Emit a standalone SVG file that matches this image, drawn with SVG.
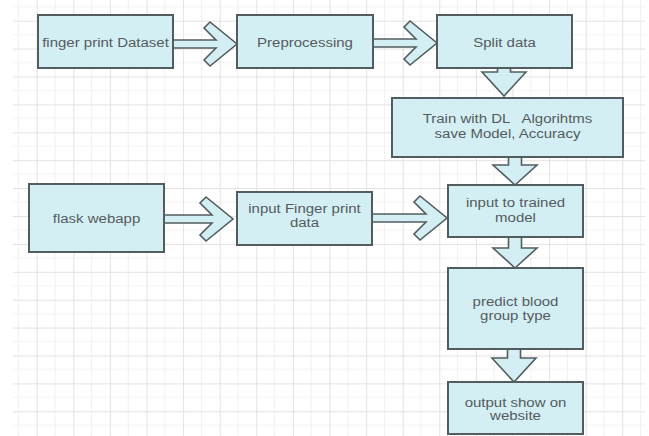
<svg xmlns="http://www.w3.org/2000/svg" width="649" height="436" viewBox="0 0 649 436">
<style>
.box{fill:#d3eff4;stroke:#535d60;stroke-width:2}
.arr{fill:#d3eff4;stroke:#535d60;stroke-width:1.6;stroke-linejoin:miter}
.t{font-family:"Liberation Sans",Arial,sans-serif;font-size:15px;fill:#555b5d;text-anchor:middle}
</style>
<defs>
<pattern id="grid" patternUnits="userSpaceOnUse" x="36.7" y="20.7" width="36.6" height="27.9">
<line x1="18.3" y1="0" x2="18.3" y2="27.9" stroke="#f1f1f1" stroke-width="1"/>
<line x1="0" y1="13.95" x2="36.6" y2="13.95" stroke="#f1f1f1" stroke-width="1"/>
<line x1="0.5" y1="0" x2="0.5" y2="27.9" stroke="#e2e2e2" stroke-width="1"/>
<line x1="0" y1="0.5" x2="36.6" y2="0.5" stroke="#e2e2e2" stroke-width="1"/>
</pattern>
</defs>
<rect x="0" y="0" width="649" height="436" fill="#ffffff"/>
<rect x="13" y="0" width="632" height="436" fill="url(#grid)"/>
<g id="connectors">
<path class="arr" d="M173,40 L216,40 L204,28 L210,22 L237,44 L210,66 L204,60 L216,48 L173,48 Z"/>
<path class="arr" d="M373,39 L416,39 L404,27 L410,21 L437,43 L410,65 L404,59 L416,47 L373,47 Z"/>
<path class="arr" d="M164,215 L212,215 L200,203 L206,197 L233,219 L206,241 L200,235 L212,223 L164,223 Z"/>
<path class="arr" d="M372,214 L426,214 L414,202 L420,196 L447,218 L420,240 L414,234 L426,222 L372,222 Z"/>
<path class="arr" d="M497.5,68 L510.5,68 L510.5,72 L526,72 L504,96 L482,72 L497.5,72 Z"/>
<path class="arr" d="M508.5,157 L521.5,157 L521.5,165 L537,165 L515,185 L493,165 L508.5,165 Z"/>
<path class="arr" d="M508.5,237 L521.5,237 L521.5,248 L537,248 L515,268 L493,248 L508.5,248 Z"/>
<path class="arr" d="M507.5,349 L520.5,349 L520.5,358 L536,358 L514,382 L492,358 L507.5,358 Z"/>
</g>
<g id="n1"><rect class="box" x="38" y="15" width="135" height="53"/>
<text class="t" transform="translate(105.5 47) scale(1 0.8)">finger print Dataset</text></g>
<g id="n2"><rect class="box" x="237" y="15" width="136" height="53"/>
<text class="t" transform="translate(305 47) scale(1 0.8)">Preprocessing</text></g>
<g id="n3"><rect class="box" x="437" y="15" width="135" height="53"/>
<text class="t" transform="translate(504.5 47) scale(1 0.8)">Split data</text></g>
<g id="n4"><rect class="box" x="392" y="98" width="231" height="59"/>
<text class="t" xml:space="preserve" transform="translate(507.5 123) scale(1 0.8)"><tspan x="0" y="0">Train with DL   Algorihtms</tspan><tspan x="0" dy="18.75">save Model, Accuracy</tspan></text></g>
<g id="n5"><rect class="box" x="448" y="185" width="135" height="52"/>
<text class="t" transform="translate(515.5 207) scale(1 0.8)"><tspan x="0" y="0">input to trained</tspan><tspan x="0" dy="18.5">model</tspan></text></g>
<g id="n6"><rect class="box" x="448" y="268" width="135" height="81"/>
<text class="t" transform="translate(515.5 306) scale(1 0.8)"><tspan x="0" y="0">predict blood</tspan><tspan x="0" dy="17">group type</tspan></text></g>
<g id="n7"><rect class="box" x="448" y="382" width="135" height="52"/>
<text class="t" transform="translate(515.5 407) scale(1 0.8)"><tspan x="0" y="0">output show on</tspan><tspan x="0" dy="16.5">website</tspan></text></g>
<g id="n8"><rect class="box" x="29" y="184" width="135" height="68"/>
<text class="t" transform="translate(96.5 223) scale(1 0.8)">flask webapp</text></g>
<g id="n9"><rect class="box" x="237" y="192" width="135" height="53"/>
<text class="t" transform="translate(304.5 213) scale(1 0.8)"><tspan x="0" y="0">input Finger print</tspan><tspan x="0" dy="17.5">data</tspan></text></g>
</svg>
